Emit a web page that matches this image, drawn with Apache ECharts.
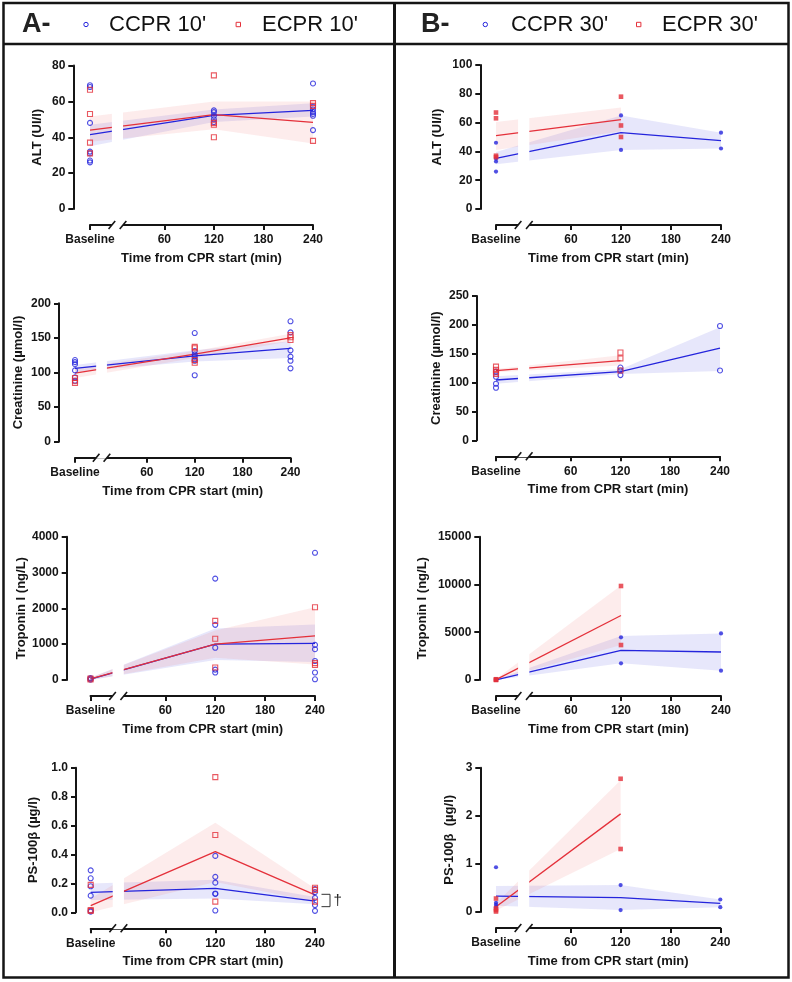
<!DOCTYPE html>
<html>
<head>
<meta charset="utf-8">
<script src="https://cdn.jsdelivr.net/npm/echarts@6/dist/echarts.min.js"></script>
<style>
  html, body { margin: 0; padding: 0; background: #fff; }
  #main { width: 792px; height: 982px; }
</style>
</head>
<body>
<div id="main"></div>
<script>
// Baseline sample sits at -30 on the minute scale, left of the axis break
var xTicks = [-30, 60, 120, 180, 240];
var times = [-30, 120, 240];

// ---- A: 10' groups. per time: [Baseline, 120, 240] ----
var altA_ccprPts = [[69, 68, 48, 32, 31, 27, 26], [55, 54, 52, 50, 48.5], [70, 57, 55.5, 54, 53, 52, 44]];
var altA_ecprPts = [[66.5, 53, 37, 31], [74.5, 48, 47, 40], [59, 57.5, 38]];
var altA_ccprMean = [41.5, 52.2, 55];
var altA_ecprMean = [44, 52.6, 48.3];
var altA_ccprBand = [[35, 47], [48.5, 55.5], [51.5, 59]];
var altA_ecprBand = [[37.5, 51.5], [44.5, 60], [36.5, 60]];

var creaA_ccprPts = [[118, 115, 112, 103, 93, 88], [157, 131, 126, 123, 119, 117, 96], [174, 158, 132, 123, 117, 106]];
var creaA_ecprPts = [[92, 88, 85], [137, 135, 118, 114], [154, 151, 147]];
var creaA_ccprMean = [106, 124, 135];
var creaA_ecprMean = [99, 126.5, 150];
var creaA_ccprBand = [[101, 111], [116, 132], [121, 145]];
var creaA_ecprBand = [[92, 106], [121, 131], [145, 156]];

var tropA_ccprPts = [[55, 35, 10], [2830, 1540, 900, 290, 210], [3550, 980, 860, 530, 210, 20]];
var tropA_ecprPts = [[40, 15], [1650, 1150, 350], [2030, 470, 420]];
var tropA_ccprMean = [25, 1000, 1020];
var tropA_ecprMean = [30, 1000, 1230];
var tropA_ccprBand = [[0, 60], [560, 1440], [500, 1550]];
var tropA_ecprBand = [[0, 70], [620, 1380], [430, 2030]];

var s100A_ccprPts = [[0.29, 0.235, 0.18, 0.115, 0.012, 0.005], [0.39, 0.245, 0.205, 0.13, 0.127, 0.012], [0.16, 0.14, 0.1, 0.05, 0.01]];
var s100A_ecprPts = [[0.19, 0.016, 0.009], [0.935, 0.535, 0.074], [0.17, 0.155, 0.074]];
var s100A_ccprMean = [0.138, 0.166, 0.078];
var s100A_ecprMean = [0.046, 0.42, 0.12];
var s100A_ccprBand = [[0.085, 0.2], [0.095, 0.225], [0.055, 0.105]];
var s100A_ecprBand = [[0, 0.095], [0.21, 0.62], [0.075, 0.165]];

// ---- B: 30' groups (no ECPR value at 240) ----
var altB_ccprPts = [[46, 35, 33, 26], [65, 41], [53, 42]];
var altB_ecprPts = [[67, 63, 37, 36], [78, 58, 50], []];
var altB_ccprMean = [35.2, 53, 47.5];
var altB_ecprMean = [51, 62, null];
var altB_ccprBand = [[31, 39.5], [41, 65], [42, 53]];
var altB_ecprBand = [[41, 60.5], [54, 70.5], null];

var creaB_ccprPts = [[119, 110, 98, 91], [126, 121, 113], [198, 121]];
var creaB_ecprPts = [[127.6, 122, 118, 115], [152, 142, 121], []];
var creaB_ccprMean = [104.5, 119, 159.5];
var creaB_ecprMean = [120.7, 138, null];
var creaB_ccprBand = [[98, 111], [115, 123], [120, 196]];
var creaB_ecprBand = [[118, 123.5], [129.5, 147.5], null];

var tropB_ccprPts = [[30, 10, 0, 0], [4470, 1750], [4880, 980]];
var tropB_ecprPts = [[80, 30, 0], [9840, 3660], []];
var tropB_ccprMean = [20, 3110, 2930];
var tropB_ecprMean = [40, 6750, null];
var tropB_ccprBand = [[0, 40], [1750, 4600], [980, 4880]];
var tropB_ecprBand = [[0, 100], [3660, 9900], null];

var s100B_ccprPts = [[0.93, 0.19, 0.15, 0.1], [0.56, 0.04], [0.26, 0.1]];
var s100B_ecprPts = [[0.28, 0.08, 0.04, 0.01], [2.77, 1.31], []];
var s100B_ccprMean = [0.33, 0.3, 0.18];
var s100B_ecprMean = [0.11, 2.04, null];
var s100B_ccprBand = [[0.13, 0.54], [0.04, 0.56], [0.1, 0.26]];
var s100B_ecprBand = [[0.03, 0.18], [1.31, 2.74], null];

var yNames = ['ALT (UI/l)', 'Creatinine (µmol/l)', 'Troponin I (ng/L)', 'PS-100β (µg/l)'];
var xName = 'Time from CPR start (min)';

var FONT = '"Liberation Sans", Arial, sans-serif';
var INK = '#151515';
var BLUE = '#2424dc';
var RED = '#e4303a';
var BLUE_FILL = 'rgba(70, 70, 225, 0.13)';
var RED_FILL = 'rgba(240, 100, 100, 0.12)';

var panels = [
  {left: 90, top: 65.5, width: 223, height: 143.5, max: 80, step: 20, dec: 0, name: yNames[0], yOff: 16.7, gap: 29, filled: false,
   c: [altA_ccprPts, altA_ccprMean, altA_ccprBand], e: [altA_ecprPts, altA_ecprMean, altA_ecprBand], names: ["CCPR 10'", "ECPR 10'"]},
  {left: 75, top: 303.3, width: 215.5, height: 138.4, max: 200, step: 50, dec: 0, name: yNames[1], yOff: 16, gap: 34, filled: false,
   c: [creaA_ccprPts, creaA_ccprMean, creaA_ccprBand], e: [creaA_ecprPts, creaA_ecprMean, creaA_ecprBand], names: ["CCPR 10'", "ECPR 10'"]},
  {left: 90.5, top: 536.7, width: 224.5, height: 143.3, max: 4000, step: 1000, dec: 0, name: yNames[2], yOff: 23.8, gap: 35, filled: false,
   c: [tropA_ccprPts, tropA_ccprMean, tropA_ccprBand], e: [tropA_ecprPts, tropA_ecprMean, tropA_ecprBand], names: ["CCPR 10'", "ECPR 10'"]},
  {left: 90.7, top: 767.7, width: 224.3, height: 144.6, max: 1, step: 0.2, dec: 1, name: yNames[3], yOff: 14.7, gap: 36, filled: false,
   c: [s100A_ccprPts, s100A_ccprMean, s100A_ccprBand], e: [s100A_ecprPts, s100A_ecprMean, s100A_ecprBand], names: ["CCPR 10'", "ECPR 10'"]},
  {left: 496, top: 65, width: 225, height: 144, max: 100, step: 20, dec: 0, name: yNames[0], yOff: 15.7, gap: 36, filled: true,
   c: [altB_ccprPts, altB_ccprMean, altB_ccprBand], e: [altB_ecprPts, altB_ecprMean, altB_ecprBand], names: ["CCPR 30'", "ECPR 30'"]},
  {left: 496, top: 296, width: 224, height: 144.3, max: 250, step: 50, dec: 0, name: yNames[1], yOff: 19, gap: 34, filled: false,
   c: [creaB_ccprPts, creaB_ccprMean, creaB_ccprBand], e: [creaB_ecprPts, creaB_ecprMean, creaB_ecprBand], names: ["CCPR 30'", "ECPR 30'"]},
  {left: 496, top: 536.7, width: 225, height: 143.3, max: 15000, step: 5000, dec: 0, name: yNames[2], yOff: 16.7, gap: 50, filled: true,
   c: [tropB_ccprPts, tropB_ccprMean, tropB_ccprBand], e: [tropB_ecprPts, tropB_ecprMean, tropB_ecprBand], names: ["CCPR 30'", "ECPR 30'"]},
  {left: 496, top: 767.7, width: 224.3, height: 144.3, max: 3, step: 1, dec: 0, name: 'PS-100β  (µg/l)', yOff: 15.7, gap: 24.5, filled: true,
   c: [s100B_ccprPts, s100B_ccprMean, s100B_ccprBand], e: [s100B_ecprPts, s100B_ecprMean, s100B_ecprBand], names: ["CCPR 30'", "ECPR 30'"]}
];

var chart = echarts.init(document.getElementById('main'));

var grids = [], xAxes = [], yAxes = [], series = [];
var boldText = {fontFamily: FONT, fontWeight: 'bold', color: INK};

function addGroup(i, grp, color, fill, symbol, filled, name) {
  var pts = grp[0], mean = grp[1], band = grp[2];
  // shaded band, drawn as one polygon through the axis scales
  series.push({
    type: 'custom', xAxisIndex: i, yAxisIndex: i, silent: true, z: 1,
    data: [[0, 0]],
    renderItem: function (params, api) {
      var upper = [], lower = [];
      times.forEach(function (t, k) {
        if (!band[k]) return;
        upper.push(api.coord([t, band[k][1]]));
        lower.unshift(api.coord([t, band[k][0]]));
      });
      return {type: 'polygon', shape: {points: upper.concat(lower)}, style: {fill: fill}};
    }
  });
  var meanData = [];
  times.forEach(function (t, k) {
    if (mean[k] != null) meanData.push([t, mean[k]]);
  });
  series.push({
    type: 'line', xAxisIndex: i, yAxisIndex: i, data: meanData, symbol: 'none',
    lineStyle: {color: color, width: 1.3}, z: 3, silent: true
  });
  var scat = [];
  times.forEach(function (t, k) {
    (pts[k] || []).forEach(function (v) { scat.push([t, v]); });
  });
  series.push({
    type: 'scatter', name: name, xAxisIndex: i, yAxisIndex: i, data: scat, clip: false,
    symbol: symbol, symbolSize: filled ? (symbol === 'rect' ? 4.6 : 4.2) : 5,
    itemStyle: filled ? {color: color} : {color: 'rgba(255,255,255,0)', borderColor: color, borderWidth: 1.1},
    z: 4
  });
}

panels.forEach(function (p, i) {
  grids.push({left: p.left, top: p.top, width: p.width, height: p.height});
  xAxes.push({
    gridIndex: i, type: 'value', min: -30, max: 240, offset: 16,
    axisLine: {show: true, onZero: false, lineStyle: {color: INK, width: 2}},
    axisTick: {show: true, customValues: xTicks, length: 5, lineStyle: {color: INK, width: 2}},
    axisLabel: Object.assign({customValues: xTicks, fontSize: 12, margin: 9,
      formatter: function (v) { return v === -30 ? 'Baseline' : String(v); }}, boldText),
    splitLine: {show: false},
    name: xName, nameLocation: 'middle', nameGap: 27,
    nameTextStyle: Object.assign({fontSize: 13}, boldText)
  });
  yAxes.push({
    gridIndex: i, type: 'value', min: 0, max: p.max, interval: p.step, offset: p.yOff,
    axisLine: {show: true, onZero: false, lineStyle: {color: INK, width: 2}},
    axisTick: {show: true, length: 5, lineStyle: {color: INK, width: 2}},
    axisLabel: Object.assign({fontSize: 12, margin: 8,
      formatter: function (v) { return v.toFixed(p.dec); }}, boldText),
    splitLine: {show: false},
    name: p.name, nameLocation: 'middle', nameGap: p.gap, nameRotate: 90,
    nameTextStyle: Object.assign({fontSize: 13}, boldText)
  });
  addGroup(i, p.c, BLUE, BLUE_FILL, 'circle', p.filled, p.names[0]);
  addGroup(i, p.e, RED, RED_FILL, 'rect', p.filled, p.names[1]);
});

chart.setOption({
  animation: false,
  backgroundColor: '#fff',
  grid: grids,
  xAxis: xAxes,
  yAxis: yAxes,
  series: series
});

// frame, header and axis breaks
var g = [];
g.push({type: 'rect', shape: {x: 3.5, y: 3, width: 785, height: 974.5}, style: {fill: 'none', stroke: INK, lineWidth: 2.5}, z: 60});
g.push({type: 'line', shape: {x1: 3.5, y1: 44, x2: 788.5, y2: 44}, style: {stroke: INK, lineWidth: 2.5}, z: 60});
g.push({type: 'line', shape: {x1: 394.5, y1: 3, x2: 394.5, y2: 977.5}, style: {stroke: INK, lineWidth: 3}, z: 60});

function header(x0, letter, items) {
  g.push({type: 'text', x: x0, y: 25, z: 60, style: {text: letter, font: 'bold 27px ' + FONT, fill: '#222', verticalAlign: 'middle'}});
  items.forEach(function (it) {
    if (it.sym === 'circle') {
      g.push({type: 'circle', shape: {cx: it.mx, cy: 24.5, r: 2.2}, style: {fill: 'none', stroke: it.color, lineWidth: 1}, z: 60});
    } else {
      g.push({type: 'rect', shape: {x: it.mx - 2.2, y: 22.3, width: 4.4, height: 4.4}, style: {fill: 'none', stroke: it.color, lineWidth: 1}, z: 60});
    }
    g.push({type: 'text', x: it.tx, y: 25, z: 60, style: {text: it.text, font: '22px ' + FONT, fill: '#111', verticalAlign: 'middle'}});
  });
}
header(22, 'A-', [
  {sym: 'circle', mx: 86, tx: 109, color: BLUE, text: panels[0].names[0]},
  {sym: 'rect', mx: 238.3, tx: 262, color: RED, text: panels[0].names[1]}
]);
header(421, 'B-', [
  {sym: 'circle', mx: 485.3, tx: 511, color: BLUE, text: panels[4].names[0]},
  {sym: 'rect', mx: 638.7, tx: 662, color: RED, text: panels[4].names[1]}
]);

panels.forEach(function (p, i) {
  var a = chart.convertToPixel({gridIndex: i}, [-3.5, p.max]);
  var b = chart.convertToPixel({gridIndex: i}, [10, 0]);
  var axisY = b[1] + 16;
  g.push({type: 'rect', shape: {x: a[0], y: a[1] - 2, width: b[0] - a[0], height: axisY + 3 - a[1]}, style: {fill: '#fff'}, z: 50});
  [a[0], b[0]].forEach(function (cx) {
    g.push({type: 'line', shape: {x1: cx - 3.3, y1: axisY + 4, x2: cx + 3.3, y2: axisY - 4}, style: {stroke: INK, lineWidth: 1.6}, z: 51});
  });
});

// significance mark at 240 min on PS-100β (A)
var sigHi = chart.convertToPixel({gridIndex: 3}, [240, 0.1245]);
var sigLo = chart.convertToPixel({gridIndex: 3}, [240, 0.039]);
g.push({type: 'polyline', shape: {points: [[sigHi[0] + 6.5, sigHi[1]], [sigHi[0] + 15, sigHi[1]], [sigHi[0] + 15, sigLo[1]], [sigHi[0] + 6.5, sigLo[1]]]},
  style: {fill: 'none', stroke: '#333', lineWidth: 1}, z: 52});
g.push({type: 'text', x: sigHi[0] + 18.5, y: (sigHi[1] + sigLo[1]) / 2 + 0.5, z: 52,
  style: {text: '†', font: '15px ' + FONT, fill: '#222', verticalAlign: 'middle'}});

chart.setOption({graphic: g});
</script>
</body>
</html>
